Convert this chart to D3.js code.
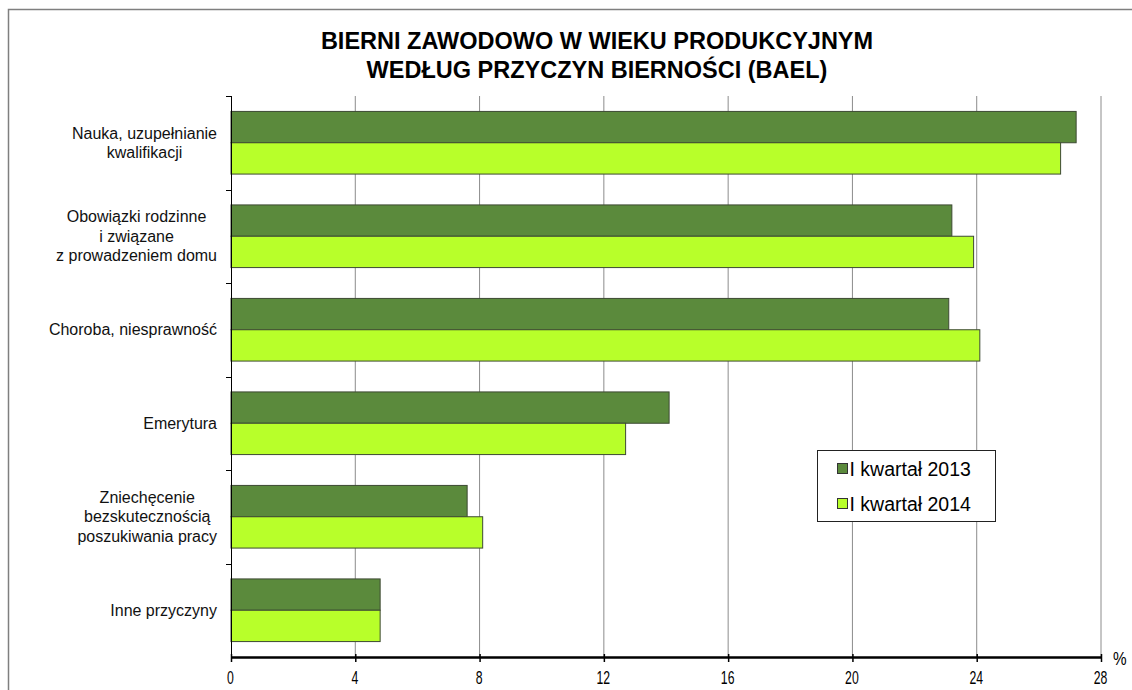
<!DOCTYPE html>
<html>
<head>
<meta charset="utf-8">
<script src="https://cdn.jsdelivr.net/npm/d3@7"></script>
<style>
  body { margin: 0; background: #fff; }
  svg { display: block; font-family: "Liberation Sans", Arial, sans-serif; }
</style>
</head>
<body>
<div id="chart"></div>
<script>
const categories = [
    ["Nauka, uzupełnianie", "kwalifikacji"],
    ["Obowiązki rodzinne", "i związane", "z prowadzeniem domu"],
    ["Choroba, niesprawność"],
    ["Emerytura"],
    ["Zniechęcenie", "bezskutecznością", "poszukiwania pracy"],
    ["Inne przyczyny"]
];
const seriesNames = ["I kwartał 2013", "I kwartał 2014"];
const values2013 = [27.2, 23.2, 23.1, 14.1, 7.6, 4.8];
const values2014 = [26.7, 23.9, 24.1, 12.7, 8.1, 4.8];
const xTicks = [0, 4, 8, 12, 16, 20, 24, 28];
const colors = ["#5b8a3c", "#b8ff2a"];

const width = 1132, height = 690;
const margin = { top: 96, right: 31, bottom: 33, left: 231 };
const chartWidth = width - margin.left - margin.right;
const chartHeight = height - margin.top - margin.bottom;

const svg = d3.select("#chart")
    .append("svg")
    .attr("width", width)
    .attr("height", height);

// outer frame
svg.append("rect")
    .attr("x", 8.5).attr("y", 9.5)
    .attr("width", width + 20).attr("height", height + 20)
    .attr("fill", "none")
    .attr("stroke", "#7f7f7f")
    .attr("stroke-width", 1.5);

svg.append("text")
    .attr("x", 597).attr("y", 49)
    .attr("text-anchor", "middle")
    .style("font-size", "23.5px").style("font-weight", "bold")
    .selectAll("tspan")
    .data(["BIERNI ZAWODOWO W WIEKU PRODUKCYJNYM", "WEDŁUG PRZYCZYN BIERNOŚCI (BAEL)"])
    .enter()
    .append("tspan")
    .attr("x", 597)
    .attr("dy", (d, i) => i ? 29 : 0)
    .text(d => d);

const g = svg.append("g")
    .attr("transform", `translate(${margin.left},${margin.top})`);

const x = d3.scaleLinear().domain([0, 28]).range([0, chartWidth]);
const y = d3.scaleBand()
    .domain(d3.range(categories.length))
    .range([0, chartHeight])
    .paddingInner(0.33).paddingOuter(0.165);
const ySub = d3.scaleBand().domain([0, 1]).range([0, y.bandwidth()]);

// vertical gridlines
g.selectAll(".grid")
    .data(xTicks.slice(1))
    .enter()
    .append("line")
    .attr("x1", d => x(d)).attr("x2", d => x(d))
    .attr("y1", 0).attr("y2", chartHeight)
    .attr("stroke", "#8c8c8c")
    .attr("stroke-width", 1);

const data = categories.map((c, i) => ({ i, vals: [values2013[i], values2014[i]] }));

const groups = g.selectAll(".cat")
    .data(data)
    .enter()
    .append("g")
    .attr("transform", d => `translate(0,${y(d.i)})`);

groups.selectAll("rect")
    .data(d => d.vals.map((v, s) => ({ v, s })))
    .enter()
    .append("rect")
    .attr("x", x(0))
    .attr("y", d => ySub(d.s))
    .attr("width", d => x(d.v) - x(0))
    .attr("height", ySub.bandwidth())
    .attr("fill", d => colors[d.s])
    .attr("stroke", "#3d4a33")
    .attr("stroke-width", 1);

// left axis with ticks at band boundaries
const step = chartHeight / categories.length;
g.append("line")
    .attr("x1", 0.5).attr("x2", 0.5)
    .attr("y1", 0).attr("y2", chartHeight)
    .attr("stroke", "#000");
g.selectAll(".ytick")
    .data(d3.range(categories.length))
    .enter()
    .append("line")
    .attr("x1", -5).attr("x2", 0.5)
    .attr("y1", d => Math.round(d * step) + 0.5)
    .attr("y2", d => Math.round(d * step) + 0.5)
    .attr("stroke", "#000");

// category labels: block right-aligned, lines centred within block
const labelRight = -14, lineH = 19.5;
groups.each(function (d) {
    const lines = categories[d.i];
    const t = d3.select(this).append("text")
        .attr("text-anchor", "middle")
        .style("font-size", "16px")
        .attr("fill", "#111");
    const spans = t.selectAll("tspan")
        .data(lines)
        .enter()
        .append("tspan")
        .attr("y", (l, k) => y.bandwidth() / 2 + (k - (lines.length - 1) / 2) * lineH)
        .attr("dy", "0.35em")
        .text(l => l);
    const maxW = d3.max(spans.nodes(), n => n.getComputedTextLength());
    spans.attr("x", labelRight - maxW / 2);
});

// bottom axis
const xAxis = g.append("g")
    .attr("transform", `translate(0,${chartHeight})`)
    .call(d3.axisBottom(x).tickValues(xTicks).tickSize(5).tickSizeOuter(0));
xAxis.select(".domain").attr("stroke-width", 2.5);
xAxis.selectAll(".tick line").attr("stroke-width", 1.5).attr("y1", -3);
xAxis.selectAll(".tick text")
    .attr("y", 0)
    .attr("dy", 0)
    .attr("transform", "translate(-1,27) scale(0.7,1)")
    .style("font-size", "17.5px")
    .attr("fill", "#000");

svg.append("text")
    .attr("transform", "translate(1113,665) scale(0.85,1)")
    .style("font-size", "18px")
    .text("%");

// legend
const legend = svg.append("g").attr("transform", "translate(817.5,450.5)");
legend.append("rect")
    .attr("width", 178).attr("height", 71)
    .attr("fill", "#fff")
    .attr("stroke", "#222");
const items = legend.selectAll(".item")
    .data(seriesNames)
    .enter()
    .append("g")
    .attr("transform", (d, i) => `translate(20,${18 + i * 35})`);
items.append("rect")
    .attr("width", 10).attr("height", 10)
    .attr("y", -5)
    .attr("fill", (d, i) => colors[i])
    .attr("stroke", "#333");
items.append("text")
    .attr("x", 12)
    .attr("dy", "0.36em")
    .style("font-size", "19.5px")
    .text(d => d);
</script>
</body>
</html>
